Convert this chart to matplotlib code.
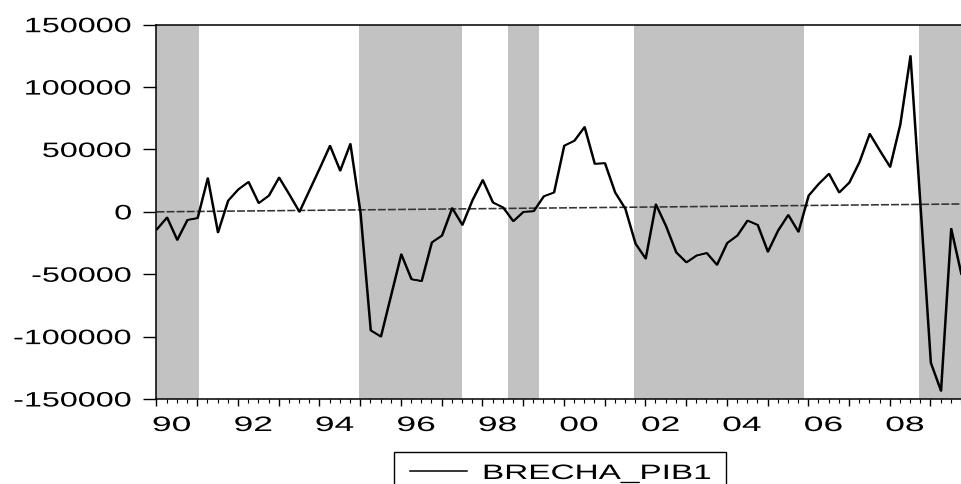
import numpy as np
import matplotlib
matplotlib.use('Agg')
import matplotlib.pyplot as plt
from matplotlib import patheffects
from matplotlib.patheffects import AbstractPathEffect
from matplotlib.transforms import Affine2D
from matplotlib.patches import Rectangle
from matplotlib.lines import Line2D


class Widen(AbstractPathEffect):
    """Draw text glyphs stretched horizontally about one edge (or the middle)."""

    def __init__(self, sx=1.75, anchor='left'):
        super().__init__()
        self.sx = sx
        self.anchor = anchor

    def draw_path(self, renderer, gc, tpath, affine, rgbFace=None):
        ext = tpath.get_extents(affine)
        x0 = {'left': ext.x0, 'right': ext.x1, 'center': 0.5 * (ext.x0 + ext.x1)}[self.anchor]
        stretch = Affine2D().translate(-x0, 0).scale(self.sx, 1).translate(x0, 0)
        renderer.draw_path(gc, tpath, affine + stretch, rgbFace)


# output gap, quarterly from 1990Q1
brecha_pib1 = [
    -14000, -4500, -22500, -6500,
    -5000, 27000, -16500, 9000,
    18000, 24000, 7000, 13000,
    27500, 14000, 0, 17500,
    35000, 53000, 33000, 54500,
    -1000, -95000, -100000, -67000,
    -34000, -54000, -55500, -24500,
    -19000, 3000, -10500, 9500,
    25500, 7500, 3500, -7500,
    0, 500, 12500, 15500,
    53000, 57000, 68000, 38500,
    39000, 15500, 2500, -25500,
    -37500, 6000, -11500, -32500,
    -40500, -35000, -33000, -42500,
    -25000, -19000, -7000, -10500,
    -32000, -15000, -2500, -16000,
    13000, 22500, 30500, 15500,
    23500, 40000, 62500, 49000,
    36000, 70000, 125000, 3000,
    -121000, -143500, -13500, -50000,
]
# dashed reference line: value at first and last quarter
trend_ends = [0, 6300]

# shaded periods (decimal years)
shade_from = [1990.0, 1994.97, 1998.63, 2001.72, 2008.73]
shade_to = [1991.05, 1997.51, 1999.38, 2005.90, 2010.0]

year_labels = ['90', '92', '94', '96', '98', '00', '02', '04', '06', '08']
label_years = [1990, 1992, 1994, 1996, 1998, 2000, 2002, 2004, 2006, 2008]
y_ticks = [-150000, -100000, -50000, 0, 50000, 100000, 150000]

t = 1990 + np.arange(len(brecha_pib1)) / 4.0

plt.rcParams['font.family'] = ['Liberation Sans', 'DejaVu Sans']

W, H = 961, 485
fig = plt.figure(figsize=(W / 100, H / 100), dpi=100)
left_px, top_px, bottom_px = 155.5, 25.7, 400.0
ax = fig.add_axes([left_px / W, (H - bottom_px) / H, 1 - left_px / W, (bottom_px - top_px) / H])

px_per_year = 41.02
x0 = 1990 - 1.0 / px_per_year
ax.set_xlim(x0, x0 + (W - left_px) / px_per_year)
ax.set_ylim(-150000, 150000)

for a, b in zip(shade_from, shade_to):
    ax.axvspan(a, b, color='#c2c2c2', lw=0, zorder=0)

ax.plot([t[0], t[-1]], trend_ends, color='#333333', lw=1.15, dashes=(5, 1.3), zorder=2)
# second copy nudged right thickens the steep parts of the line
ax.plot(t, brecha_pib1, color='black', lw=1.2, zorder=3,
        path_effects=[patheffects.SimpleLineShadow(offset=(0.6, 0), shadow_color='black', alpha=1),
                      patheffects.Normal()])

for s in ['left', 'bottom', 'top']:
    ax.spines[s].set_linewidth(1.1)
ax.spines['right'].set_visible(False)

ax.set_yticks(y_ticks, [str(v) for v in y_ticks])
ax.tick_params(axis='y', direction='out', length=9.4, width=1.0, pad=7.6, labelsize=15)
for lbl in ax.get_yticklabels():
    lbl.set_path_effects([Widen(1.55, 'right')])

ax.set_xticks(np.arange(1990, 2010))
ax.set_xticks(np.arange(1990, 2010, 0.25), minor=True)
ax.tick_params(axis='x', which='major', direction='out', length=5.0, width=1.0, labelbottom=False)
ax.tick_params(axis='x', which='minor', direction='out', length=3.0, width=0.8)

for yr, lab in zip(label_years, year_labels):
    txt = ax.text(yr + 0.375, -32 / (bottom_px - top_px), lab, transform=ax.get_xaxis_transform(),
                  ha='center', va='baseline', fontsize=15)
    txt.set_path_effects([Widen(1.7, 'center')])

# legend box, its lower edge falls below the figure
fig.add_artist(Rectangle((394 / W, (H - 495) / H), (726 - 394) / W, 42 / H,
                         transform=fig.transFigure, fill=False, ec='black', lw=1.0))
fig.add_artist(Line2D([410 / W, 467 / W], [(H - 471.7) / H] * 2, transform=fig.transFigure,
                      color='black', lw=1.1))
leg = fig.text(483 / W, (H - 480) / H, 'BRECHA_PIB1', ha='left', va='baseline', fontsize=15)
leg.set_path_effects([Widen(1.6, 'left')])

fig.savefig('out.png', dpi=100)
